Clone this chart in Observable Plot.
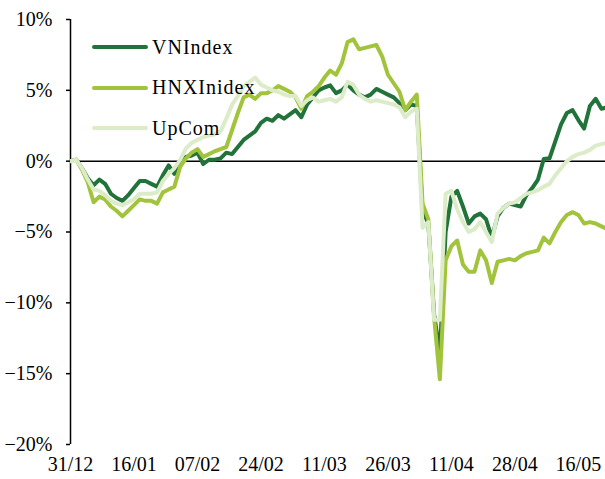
<!DOCTYPE html>
<html><head><meta charset="utf-8">
<script src="https://cdn.jsdelivr.net/npm/d3@7"></script>
<script src="https://cdn.jsdelivr.net/npm/@observablehq/plot@0.6"></script>
<style>
body{margin:0;background:#fff;}
#wrap{position:relative;width:605px;height:479px;font-family:"Liberation Serif",serif;}
.item{position:absolute;left:92px;height:24px;display:flex;align-items:center;}
.sw{display:inline-block;width:56px;height:4px;border-radius:2px;}
.lab{margin-left:4px;font-size:20px;letter-spacing:1px;color:#000;}
</style></head><body><div id="wrap"></div>
<script>
const xTickIdx = [0,11,22,33,44,55,66,77,88];
const xTickLabels = ["31/12","16/01","07/02","24/02","11/03","26/03","11/04","28/04","16/05"];
const yTicks = [-20,-15,-10,-5,0,5,10];
const yTickLabels = ["\u221220%","\u221215%","\u221210%","\u22125%","0%","5%","10%"];
const seriesNames = ["VNIndex","HNXInidex","UpCom"];
const seriesColors = ["#22733a","#a2c43c","#dcebc8"];

const vn = [
 0, 0.1, -0.5, -1.2, -1.7, -1.3, -1.6, -2.3, -2.6, -2.8,
 -2.4, -1.9, -1.4, -1.4, -1.6, -1.8, -1.0, -0.3, -0.9, 0.0,
 0.3, 0.4, 0.6, -0.2, 0.1, 0.1, 0.2, 0.6, 0.5, 1.0,
 1.5, 1.8, 2.1, 2.7, 3.0, 2.85, 3.25, 3.0, 3.3, 3.6,
 3.1, 4.0, 4.5, 5.0, 5.2, 5.35, 4.8, 5.0, 5.4, 5.0,
 4.7, 4.5, 4.7, 5.1, 4.9, 4.7, 4.5, 4.1, 3.6, 4.0,
 3.9, -3.5, -4.4, -10.8, -13.6, -5.0, -2.5, -2.1, -3.2, -4.4,
 -3.9, -3.7, -4.1, -5.4, -3.9, -3.3, -3.0, -3.1, -3.2, -2.4,
 -1.9, -1.3, 0.15, 0.2, 1.4, 2.6, 3.4, 3.6, 2.9, 2.3,
 3.9, 4.4, 3.7, 3.8
];
const hnx = [
 0, 0.1, -0.6, -1.5, -2.9, -2.5, -2.7, -3.2, -3.5, -3.9,
 -3.5, -3.1, -2.7, -2.8, -2.8, -3.0, -2.2, -2.0, -1.8, -0.4,
 0.2, 0.6, 0.85, 0.3, 0.5, 0.7, 0.85, 1.0, 2.2, 3.4,
 4.5, 4.7, 4.4, 4.8, 4.8, 5.0, 5.3, 5.1, 4.9, 4.5,
 3.7, 4.6, 4.9, 5.3, 5.9, 6.4, 6.1, 6.9, 8.4, 8.6,
 7.9, 8.0, 8.1, 8.2, 7.4, 6.1, 5.5, 4.9, 3.6, 4.2,
 4.7, -3.0, -4.1, -11.0, -15.4, -7.0, -6.0, -5.6, -7.3, -7.8,
 -7.8, -6.3, -7.0, -8.6, -7.1, -7.0, -6.9, -7.0, -6.7, -6.5,
 -6.4, -6.3, -5.4, -5.8, -5.0, -4.3, -3.8, -3.6, -3.8, -4.4,
 -4.3, -4.4, -4.6, -4.8
];
const upcom = [
 0, 0.1, -0.5, -1.3, -2.0, -2.1, -2.4, -2.8, -3.0, -3.1,
 -2.9, -2.7, -2.3, -2.3, -2.3, -2.2, -1.4, -0.9, -0.5, 0.1,
 0.9, 1.3, 1.5, 1.7, 1.8, 1.9, 2.1, 3.0, 4.0, 4.6,
 5.3, 5.6, 5.9, 5.4, 5.2, 5.0, 4.9, 4.7, 4.6, 4.6,
 3.9, 4.3, 4.5, 4.2, 4.3, 4.4, 4.2, 4.5, 5.6, 5.4,
 4.7, 4.4, 4.2, 4.3, 4.2, 4.1, 4.0, 3.8, 3.1, 3.5,
 3.7, -4.7, -4.3, -11.2, -11.2, -2.3, -2.1, -3.4, -4.3, -5.0,
 -4.8, -4.3, -5.0, -5.7, -3.7, -3.3, -3.0, -2.9, -2.6, -2.3,
 -2.2, -2.05, -1.8, -1.6, -1.0, -0.5, 0.0, 0.3, 0.5, 0.6,
 0.8, 1.1, 1.2, 1.3
];

const rows = [];
[vn, hnx, upcom].forEach((arr, k) => arr.forEach((v, i) => rows.push({i, v, s: seriesNames[k]})));

const chart = Plot.plot({
  width: 605, height: 479,
  marginLeft: 70, marginRight: 0, marginTop: 19, marginBottom: 35,
  style: {fontFamily: '"Liberation Serif", serif', fontSize: "20px", color: "#000", background: "#fff", overflow: "hidden"},
  x: {domain: [0, 92.7], axis: null},
  y: {domain: [-20, 10], axis: null},
  color: {domain: seriesNames, range: seriesColors},
  marks: [
    Plot.axisY({ticks: yTicks, tickFormat: d => yTickLabels[yTicks.indexOf(d)], tickSize: 4, tickPadding: 14, stroke: "#000", strokeWidth: 1.5, fill: "#000", label: null}),
    Plot.axisX({ticks: xTickIdx, tickFormat: d => xTickLabels[xTickIdx.indexOf(d)], tickSize: 0, tickPadding: 12, fill: "#000", label: null}),
    Plot.ruleX([0], {y1: -20, y2: 10, stroke: "#000", strokeWidth: 1.5}),
    Plot.ruleY([0], {stroke: "#000", strokeWidth: 1.5}),
    Plot.line(rows, {x: "i", y: "v", z: "s", stroke: "s", strokeWidth: 4, clip: true})
  ]
});
const wrap = document.getElementById("wrap");
wrap.appendChild(chart);

seriesNames.forEach((name, k) => {
  const it = document.createElement("div");
  it.className = "item";
  it.style.top = (35 + 40.5 * k) + "px";
  const sw = document.createElement("span");
  sw.className = "sw";
  sw.style.background = seriesColors[k];
  const lab = document.createElement("span");
  lab.className = "lab";
  lab.textContent = name;
  it.appendChild(sw); it.appendChild(lab);
  wrap.appendChild(it);
});
</script>
</body></html>
